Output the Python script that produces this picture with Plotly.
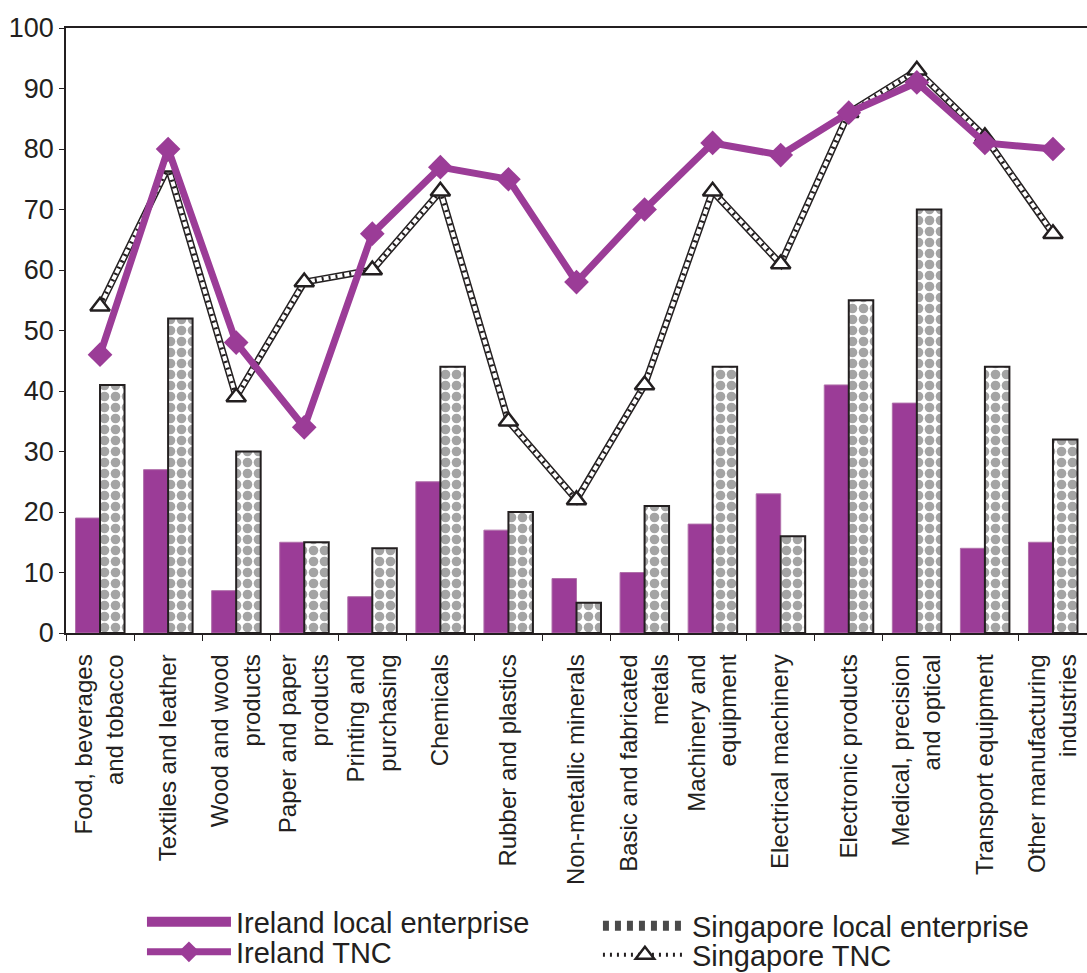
import plotly.graph_objects as go

categories = [
    "Food, beverages<br>and tobacco",
    "Textiles and leather",
    "Wood and wood<br>products",
    "Paper and paper<br>products",
    "Printing and<br>purchasing",
    "Chemicals",
    "Rubber and plastics",
    "Non-metallic minerals",
    "Basic and fabricated<br>metals",
    "Machinery and<br>equipment",
    "Electrical machinery",
    "Electronic products",
    "Medical, precision<br>and optical",
    "Transport equipment",
    "Other manufacturing<br>industries",
]
ireland_local = [19, 27, 7, 15, 6, 25, 17, 9, 10, 18, 23, 41, 38, 14, 15]
singapore_local = [41, 52, 30, 15, 14, 44, 20, 5, 21, 44, 16, 55, 70, 44, 32]
ireland_tnc = [46, 80, 48, 34, 66, 77, 75, 58, 70, 81, 79, 86, 91, 81, 80]
singapore_tnc = [54, 77, 39, 58, 60, 73, 35, 22, 41, 73, 61, 86, 93, 82, 66]
y_ticks = [0, 10, 20, 30, 40, 50, 60, 70, 80, 90, 100]

PURPLE = "#9b3c97"
INK = "#231f20"
FONT = "Liberation Sans, Arial, sans-serif"

fig = go.Figure()

fig.add_trace(go.Bar(
    x=categories, y=ireland_local, name="Ireland local enterprise",
    marker=dict(color=PURPLE, line=dict(color="#b070aa", width=1)),
    showlegend=False,
))
fig.add_trace(go.Bar(
    x=categories, y=singapore_local, name="Singapore local enterprise",
    marker=dict(color="white", line=dict(color=INK, width=2),
                pattern=dict(shape=".", fgcolor="#4a4a4a", bgcolor="white",
                             size=11, solidity=0.6)),
    showlegend=False,
))
# Singapore TNC "ladder" line: dark outer, white inner, dark rungs
fig.add_trace(go.Scatter(
    x=categories, y=singapore_tnc, mode="lines", showlegend=False,
    line=dict(color=INK, width=7), hoverinfo="skip",
))
fig.add_trace(go.Scatter(
    x=categories, y=singapore_tnc, mode="lines", showlegend=False,
    line=dict(color="white", width=4), hoverinfo="skip",
))
fig.add_trace(go.Scatter(
    x=categories, y=singapore_tnc, mode="lines+markers", name="Singapore TNC",
    line=dict(color=INK, width=4, dash="2px,5px"),
    marker=dict(symbol="triangle-up", size=17, color="white",
                line=dict(color=INK, width=2.5)),
    legend="legend4",
))
fig.add_trace(go.Scatter(
    x=categories, y=ireland_tnc, mode="lines+markers", name="Ireland TNC",
    line=dict(color=PURPLE, width=7),
    marker=dict(symbol="diamond", size=19, color=PURPLE),
    legend="legend2",
))
# legend keys for the bar series (wide swatches like the original)
fig.add_trace(go.Scatter(
    x=[None], y=[None], mode="lines", name="Ireland local enterprise",
    line=dict(color=PURPLE, width=16), legend="legend",
))
fig.add_trace(go.Scatter(
    x=[None], y=[None], mode="lines", name="Singapore local enterprise",
    line=dict(color="#4a4a4a", width=13, dash="6px,6px"), legend="legend3",
))

legend_common = dict(
    orientation="v", xanchor="left", yanchor="middle", itemwidth=84,
    font=dict(size=29, family=FONT, color=INK), traceorder="normal",
    tracegroupgap=0, bgcolor="rgba(0,0,0,0)",
)
fig.update_layout(
    width=1087, height=973,
    paper_bgcolor="white", plot_bgcolor="white",
    margin=dict(l=66, r=0, t=28, b=340, autoexpand=False),
    barmode="group", bargap=0.28, bargroupgap=0,
    font=dict(family=FONT, color=INK),
    showlegend=True,
    legend=dict(x=0.0744, y=-0.4777, **legend_common),
    legend2=dict(x=0.0744, y=-0.5273, **legend_common),
    legend3=dict(x=0.521, y=-0.4843, **legend_common),
    legend4=dict(x=0.521, y=-0.5322, **legend_common),
)
fig.update_xaxes(
    type="category", range=[-0.5, len(categories) - 0.5],
    showline=True, linecolor=INK, linewidth=1.5, mirror=True,
    ticks="outside", tickson="boundaries", ticklen=6, tickcolor=INK,
    tickangle=-90, tickfont=dict(size=24, family=FONT, color=INK),
    showgrid=False, ticklabelstandoff=10, automargin=False,
)
fig.update_yaxes(
    range=[0, 100], tickvals=y_ticks, showline=True, linecolor=INK, linewidth=1.5,
    ticks="outside", ticklen=5, tickcolor=INK, showgrid=False, zeroline=False,
    tickfont=dict(size=27, family=FONT, color=INK), automargin=False,
)

fig.write_html(
    "out.html",
    config={"displayModeBar": False},
    post_script="document.body.style.margin='0';document.body.style.overflow='hidden';",
)
